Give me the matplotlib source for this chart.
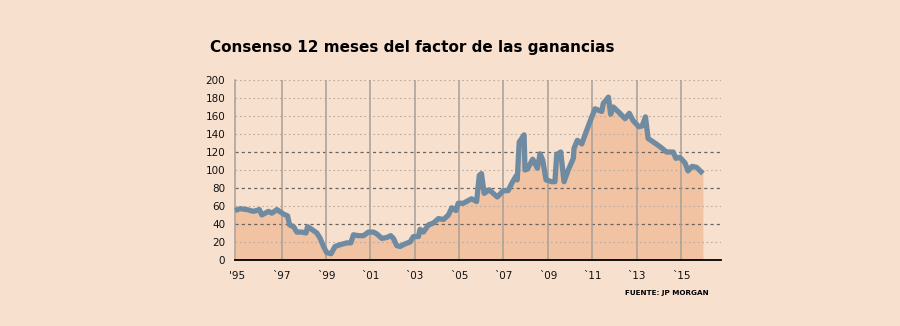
import matplotlib.pyplot as plt

# datos (año decimal, valor)
years = [1994.9, 1995.13, 1995.44, 1995.73, 1996.0, 1996.11, 1996.41, 1996.56, 1996.79,
         1997.09, 1997.27, 1997.36, 1997.54, 1997.69, 1997.91, 1998.1, 1998.17, 1998.36,
         1998.59, 1998.74, 1998.89, 1999.04, 1999.23, 1999.41, 1999.64, 1999.94, 2000.12,
         2000.24, 2000.46, 2000.69, 2000.91, 2001.14, 2001.29, 2001.52, 2001.74, 2001.92,
         2002.04, 2002.19, 2002.34, 2002.57, 2002.79, 2002.94, 2003.17, 2003.24, 2003.39,
         2003.62, 2003.84, 2004.07, 2004.3, 2004.52, 2004.67, 2004.86, 2004.96, 2005.19,
         2005.56, 2005.79, 2005.91, 2006.01, 2006.13, 2006.36, 2006.54, 2006.72, 2006.99,
         2007.21, 2007.37, 2007.56, 2007.62, 2007.71, 2007.93, 2007.97, 2008.08, 2008.32,
         2008.53, 2008.65, 2008.77, 2008.92, 2009.17, 2009.32, 2009.4, 2009.58, 2009.73,
         2009.92, 2010.15, 2010.18, 2010.33, 2010.53, 2010.75, 2010.98, 2011.13, 2011.43,
         2011.5, 2011.73, 2011.83, 2011.95, 2012.25, 2012.48, 2012.67, 2012.84, 2013.1,
         2013.25, 2013.4, 2013.52, 2013.82, 2014.05, 2014.35, 2014.65, 2014.77, 2014.95,
         2015.18, 2015.32, 2015.5, 2015.7, 2015.99]
values = [55, 57, 56, 54, 56, 50, 54, 52, 56,
          51, 49, 39, 37, 31, 31, 30, 37, 34,
          30, 24, 15, 8, 7, 15, 17, 19, 19,
          28, 27, 27, 31, 31, 29, 24, 25, 27,
          24, 16, 15, 18, 20, 26, 26, 34, 31,
          39, 41, 46, 45, 50, 58, 55, 63, 63,
          68, 65, 94, 96, 74, 78, 74, 70, 77,
          77, 85, 93, 89, 131, 139, 100, 101, 112,
          102, 118, 111, 89, 87, 87, 117, 120, 87,
          100, 113, 124, 133, 129, 144, 159, 168, 165,
          174, 181, 162, 170, 163, 157, 163, 155, 148,
          149, 159, 135, 130, 126, 120, 120, 113, 114,
          108, 99, 104, 103, 96]

tick_years = [1995, 1997, 1999, 2001, 2003, 2005, 2007, 2009, 2011, 2013, 2015]
tick_labels = ["'95", "`97", "`99", "`01", "`03", "`05", "`07", "`09", "`11", "`13", "`15"]
y_ticks = [0, 20, 40, 60, 80, 100, 120, 140, 160, 180, 200]

bg = '#F8E0CF'
fill_c = '#F2C3A2'
line_c = '#6F8BA2'

fig = plt.figure(figsize=(9, 3.26), dpi=100, facecolor=bg)
ax = fig.add_axes([0.2611, 0.2025, 0.5399, 0.5521])
ax.set_facecolor(bg)

ax.fill_between(years, values, 0, color=fill_c, lw=0, zorder=1)

# rejilla horizontal: 40, 80 y 120 más oscuras
for v in y_ticks[1:]:
    if v in (40, 80, 120):
        ax.axhline(v, color='#6a625c', lw=0.9, ls=(0, (2.5, 2.5)), zorder=2)
    else:
        ax.axhline(v, color='#b8aca2', lw=0.8, ls=(0, (1.5, 2.5)), zorder=2)
for yr in tick_years[1:]:
    ax.axvline(yr, color='#a8a098', lw=1.1, zorder=2)

ax.plot(years, values, color=line_c, lw=3.8, solid_joinstyle='round',
        solid_capstyle='butt', zorder=3, clip_on=False)

ax.set_xlim(1994.9, 2016.8)
ax.set_ylim(0, 200)

for s in ['top', 'right']:
    ax.spines[s].set_visible(False)
ax.spines['left'].set_color('#a8a098')
ax.spines['left'].set_linewidth(1.1)
ax.spines['bottom'].set_color('black')
ax.spines['bottom'].set_linewidth(1.3)
ax.spines['bottom'].set_zorder(4)

ax.set_yticks(y_ticks)
ax.set_yticklabels([str(v) for v in y_ticks], fontsize=7.5, color='#111111')
ax.tick_params(axis='y', length=0, pad=7)
ax.set_yticks([0], minor=True)
ax.tick_params(axis='y', which='minor', length=3, color='#6a625c', width=0.8)
ax.set_xticks(tick_years)
ax.set_xticklabels(tick_labels, fontsize=7.5, color='#111111')
ax.tick_params(axis='x', length=0, pad=8)

fig.text(0.233, 0.84, 'Consenso 12 meses del factor de las ganancias',
         fontsize=11, fontweight='bold', ha='left', va='baseline')
fig.text(0.787, 0.094, 'FUENTE: JP MORGAN', fontsize=5.2, fontweight='bold',
         ha='right', va='baseline')

fig.savefig('out.png', dpi=100, facecolor=bg)
